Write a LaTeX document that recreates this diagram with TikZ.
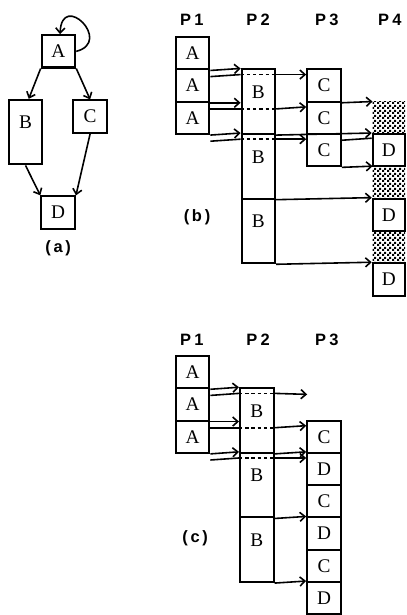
\documentclass[tikz,border=0pt]{standalone}
\usepackage{fontspec}
\setmainfont{Liberation Serif}
\newfontfamily\labelfont{Liberation Sans}
\usetikzlibrary{arrows.meta,patterns.meta}

\tikzdeclarepattern{
  name=checker,
  type=uncolored,
  bounding box={(0,0) and (4pt,4pt)},
  tile size={(4pt,4pt)},
  code={
    \pgfpathrectangle{\pgfqpoint{0pt}{0pt}}{\pgfqpoint{2pt}{2pt}}
    \pgfpathrectangle{\pgfqpoint{2pt}{2pt}}{\pgfqpoint{2pt}{2pt}}
    \pgfusepath{fill}
  }
}

\begin{document}
\begin{tikzpicture}[
    task/.style={
      draw,
      line width=1.8pt,
      minimum width=1.04cm,
      minimum height=1cm,
      inner sep=0pt,
      font=\fontsize{17}{18}\selectfont
    },
    longtask/.style={
      task,
      minimum height=2cm,
      text height=0.9cm,
      text depth=1.1cm
    },
    dtask/.style={
      task,
      minimum width=1.0cm
    },
    idle/.style={
      pattern=checker,
      minimum width=1.0cm,
      minimum height=1cm,
      inner sep=0pt
    },
    plabel/.style={
      font=\labelfont\bfseries\fontsize{14.5}{16}\selectfont
    },
    caption/.style={
      font=\labelfont\bfseries\fontsize{14.5}{16}\selectfont
    },
    msg/.style={
      line width=1.4pt
    },
    arr/.style={
      msg,
      -{Straight Barb[length=4.5pt,width=8pt]}
    },
    pass/.style={
      msg,
      dash pattern=on 3pt off 2.5pt
    }
  ]
  \useasboundingbox (0,0) rectangle (12.57,-19.04);

  % (a) task graph
  \node[task] (aA) at (1.81,-1.59) {A};
  \node[longtask] (aB) at (0.79,-4.09) {B};
  \node[task] (aC) at (2.79,-3.61) {C};
  \node[task] (aD) at (1.80,-6.58) {D};

  \draw[arr] (aA.east) .. controls +(1.15,0.3) and +(0.05,1.35) .. ([xshift=0.05cm]aA.north);
  \draw[arr] (aA.south west) -- ([xshift=0.1cm]aB.north);
  \draw[arr] (aA.south east) -- (aC.north);
  \draw[arr] (aB.south) -- (aD.north west);
  \draw[arr] (aC.south) -- (aD.north east);

  \node[caption] (acap) at (1.80,-7.68) {(\,a\,)};

  % (b) four processors
  \node[plabel] (bp1) at (5.94,-0.62) {P\hspace{3pt}1};
  \node[plabel] (bp2) at (7.99,-0.62) {P\hspace{3pt}2};
  \node[plabel] (bp3) at (10.12,-0.62) {P\hspace{3pt}3};
  \node[plabel] (bp4) at (12.07,-0.62) {P\hspace{3pt}4};

  \node[task] (bA1) at (5.96,-1.65) {A};
  \node[task] (bA2) at (5.96,-2.65) {A};
  \node[task] (bA3) at (5.96,-3.65) {A};

  \node[longtask] (bB1) at (8.0,-3.15) {B};
  \node[longtask] (bB2) at (8.0,-5.15) {B};
  \node[longtask] (bB3) at (8.0,-7.15) {B};

  \node[task] (bC1) at (10.03,-2.65) {C};
  \node[task] (bC2) at (10.03,-3.65) {C};
  \node[task] (bC3) at (10.03,-4.65) {C};

  \node[idle] (bW1) at (12.04,-3.65) {};
  \node[dtask] (bD1) at (12.04,-4.65) {D};
  \node[idle] (bW2) at (12.04,-5.65) {};
  \node[dtask] (bD2) at (12.04,-6.65) {D};
  \node[idle] (bW3) at (12.04,-7.65) {};
  \node[dtask] (bD3) at (12.04,-8.65) {D};

  % A -> B, A -> C
  \draw[arr] (bA1.south east) -- (bB1.north west);
  \draw[msg] ([yshift=-0.19cm]bA1.south east) -- ([yshift=-0.19cm]bB1.north west);
  \draw[pass] ([yshift=-0.19cm]bB1.north west) -- ([yshift=-0.19cm]bB1.north east);
  \draw[arr] ([yshift=-0.19cm]bB1.north east) -- ([yshift=-0.19cm]bC1.north west);

  \draw[arr] (bA2.south east) -- (bA2.south east -| bB1.west);
  \draw[msg] ([yshift=-0.19cm]bA2.south east) -- ([yshift=-0.19cm]bA2.south east -| bB1.west);
  \draw[pass] ([yshift=-0.19cm]bA2.south east -| bB1.west) -- ([yshift=-0.19cm]bA2.south east -| bB1.east);
  \draw[arr] ([yshift=-0.19cm]bA2.south east -| bB1.east) -- ([yshift=-0.19cm]bC2.north west);

  \draw[arr] (bA3.south east) -- (bB2.north west);
  \draw[msg] ([yshift=-0.19cm]bA3.south east) -- ([yshift=-0.19cm]bB2.north west);
  \draw[pass] ([yshift=-0.19cm]bB2.north west) -- ([yshift=-0.19cm]bB2.north east);
  \draw[arr] ([yshift=-0.19cm]bB2.north east) -- ([yshift=-0.19cm]bC3.north west);

  % B, C -> D
  \draw[arr] (bC1.south east) -- (bW1.north west);
  \draw[arr] (bB1.south east) -- (bD1.north west);
  \draw[msg] ([yshift=-0.16cm]bC2.south east) -- ([yshift=-0.16cm]bD1.north west);
  \draw[arr] (bC3.south east) -- (bW2.north west);
  \draw[arr] (bB2.south east) -- (bD2.north west);
  \draw[arr] (bB3.south east) -- (bD3.north west);

  \node[caption] (bcap) at (6.10,-6.72) {(\,b\,)};

  % (c) three processors
  \node[plabel] (cp1) at (5.94,-10.53) {P\hspace{3pt}1};
  \node[plabel] (cp2) at (7.99,-10.53) {P\hspace{3pt}2};
  \node[plabel] (cp3) at (10.12,-10.53) {P\hspace{3pt}3};

  \node[task] (cA1) at (5.96,-11.52) {A};
  \node[task] (cA2) at (5.96,-12.52) {A};
  \node[task] (cA3) at (5.96,-13.52) {A};

  \node[longtask] (cB1) at (7.95,-13.02) {B};
  \node[longtask] (cB2) at (7.95,-15.02) {B};
  \node[longtask] (cB3) at (7.95,-17.02) {B};

  \node[task] (cC1) at (10.03,-13.52) {C};
  \node[task] (cD1) at (10.03,-14.52) {D};
  \node[task] (cC2) at (10.03,-15.52) {C};
  \node[task] (cD2) at (10.03,-16.52) {D};
  \node[task] (cC3) at (10.03,-17.52) {C};
  \node[task] (cD3) at (10.03,-18.52) {D};

  \coordinate (cfree) at (9.51,-12.21);

  % A -> B, A -> C
  \draw[arr] (cA1.south east) -- (cB1.north west);
  \draw[msg] ([yshift=-0.19cm]cA1.south east) -- ([yshift=-0.19cm]cB1.north west);
  \draw[pass] ([yshift=-0.19cm]cB1.north west) -- ([yshift=-0.19cm]cB1.north east);
  \draw[arr] ([yshift=-0.19cm]cB1.north east) -- (cfree);

  \draw[arr] (cA2.south east) -- (cA2.south east -| cB1.west);
  \draw[msg] ([yshift=-0.19cm]cA2.south east) -- ([yshift=-0.19cm]cA2.south east -| cB1.west);
  \draw[pass] ([yshift=-0.19cm]cA2.south east -| cB1.west) -- ([yshift=-0.19cm]cA2.south east -| cB1.east);
  \draw[arr] ([yshift=-0.19cm]cA2.south east -| cB1.east) -- ([yshift=-0.19cm]cC1.north west);

  \draw[arr] (cA3.south east) -- (cB2.north west);
  \draw[msg] ([yshift=-0.19cm]cA3.south east) -- ([yshift=-0.19cm]cB2.north west);
  \draw[pass] ([yshift=-0.19cm]cB2.north west) -- ([yshift=-0.19cm]cB2.north east);
  \draw[arr] ([yshift=-0.19cm]cB2.north east) -- ([yshift=-0.19cm]cD1.north west);

  % B -> D
  \draw[arr] (cB1.south east) -- (cD1.north west);
  \draw[arr] (cB2.south east) -- (cD2.north west);
  \draw[arr] (cB3.south east) -- (cD3.north west);

  \node[caption] (ccap) at (6.04,-16.66) {(\,c\,)};

\end{tikzpicture}
\end{document}
